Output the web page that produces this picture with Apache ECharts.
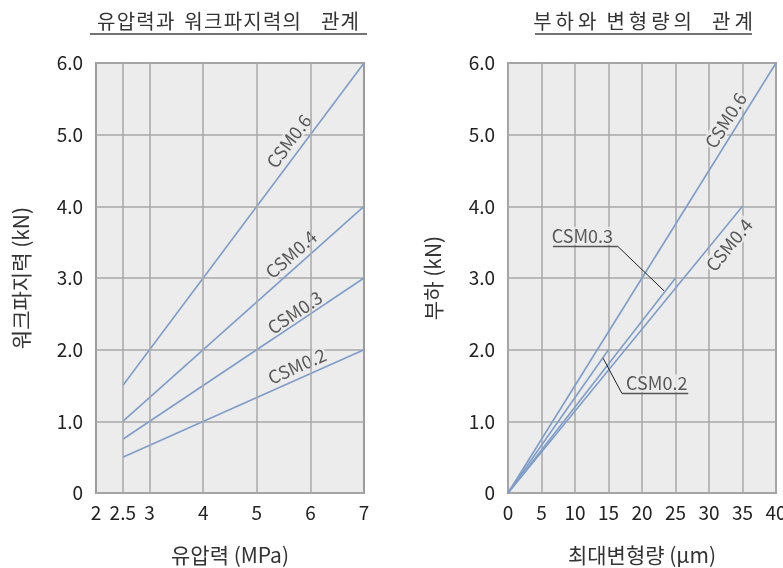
<!DOCTYPE html>
<html><head><meta charset="utf-8">
<script src="https://cdn.jsdelivr.net/npm/echarts@6/dist/echarts.min.js"></script>
<style>html,body{margin:0;padding:0;background:#fff}#c{width:783px;height:568px}</style>
</head><body><div id="c"></div>
<script>
const FONT = "'Noto Sans CJK KR', 'Noto Sans', sans-serif";

// ---- texts ----
const leftTitle = '유압력과 워크파지력의  관계';
const rightTitle = '부하와 변형량의  관계';
const leftXName = '유압력 (MPa)';
const leftYName = '워크파지력 (kN)';
const rightXName = '최대변형량 (μm)';
const rightYName = '부하 (kN)';
const seriesNames = ['CSM0.6', 'CSM0.4', 'CSM0.3', 'CSM0.2'];

// ---- ticks ----
const leftXTickLabels = [2, 2.5, 3, 4, 5, 6, 7];
const leftXGridValues = [2.5, 3, 4, 5, 6];
const yTickLabels = [0, 1, 2, 3, 4, 5, 6];
const rightXTickLabels = [0, 5, 10, 15, 20, 25, 30, 35, 40];

// ---- left chart: oil pressure (MPa) vs work gripping force (kN) ----
const pressure = [2.5, 7];
const grip06 = [1.5, 6.0];
const grip04 = [1.0, 4.0];
const grip03 = [0.75, 3.0];
const grip02 = [0.5, 2.0];

// ---- right chart: max deflection (um) vs load (kN) ----
const defl06 = [0, 40]; const load06 = [0, 6];
const defl04 = [0, 35]; const load04 = [0, 4];
const defl03 = [0, 25]; const load03 = [0, 3];
const defl02 = [0, 15]; const load02 = [0, 2];

// ---- annotation anchors (data coords) ----
const leftLabelAnchors = [[5.60, 4.91], [5.64, 3.33], [5.71, 2.52], [5.75, 1.77]];
const rightRotLabelAnchors = [[32.5, 5.20], [33.0, 3.46]]; // CSM0.6, CSM0.4
const rightCallout03Text = [11.1, 3.59];
const rightCallout03Under = [[6.7, 3.44], [16.4, 3.44]];
const rightCallout03Leader = [[16.4, 3.44], [23.3, 2.82]];
const rightCallout02Text = [22.2, 1.53];
const rightCallout02Under = [[17.0, 1.39], [26.9, 1.39]];
const rightCallout02Leader = [[17.0, 1.39], [14.2, 1.88]];

const BLUE = '#7f9dc8';
const GRIDC = '#a9a9a9';
const BG = '#ececec';

const zip = (xs, ys) => xs.map((x, i) => [x, ys[i]]);
const leftLines = [grip06, grip04, grip03, grip02].map(g => zip(pressure, g));
const rightLines = [zip(defl06, load06), zip(defl04, load04), zip(defl03, load03), zip(defl02, load02)];

// spaced-out title text (letter spacing emulated with thin spaces)
const spaced = (s, sp) => Array.from(s).map((ch, i, a) => (i < a.length - 1 && ch !== ' ' && a[i + 1] !== ' ') ? ch + sp : (ch === ' ' ? '\u2002' : ch)).join('');

const chart = echarts.init(document.getElementById('c'), null, {renderer: 'canvas'});

function yAxisCfg(gridIndex, name, gap) {
  return {
    type: 'value', gridIndex, min: 0, max: 6, interval: 1,
    name, nameLocation: 'middle', nameGap: gap,
    nameTextStyle: {fontFamily: FONT, fontSize: 21, color: '#333'},
    axisLine: {show: false}, axisTick: {show: false},
    axisLabel: {fontFamily: FONT, fontSize: 19, color: '#222', margin: 13,
      formatter: v => yTickLabels.includes(v) ? (v === 0 ? '0' : v.toFixed(1)) : ''},
    splitLine: {show: true, lineStyle: {color: GRIDC, width: 1.5}}
  };
}

function lineSeries(data, xi, yi, name) {
  return {type: 'line', name, xAxisIndex: xi, yAxisIndex: yi, data, symbol: 'none',
    lineStyle: {color: BLUE, width: 1.6}, z: 3, silent: true, animation: false};
}

function textPoint(xi, yi, pos, text, rotate) {
  return {type: 'scatter', xAxisIndex: xi, yAxisIndex: yi, symbolSize: 0, z: 4, silent: true, animation: false,
    data: [{value: pos}],
    label: {show: true, position: 'inside', formatter: text, rotate: rotate || 0,
      fontFamily: FONT, fontSize: 18, color: '#333', lineHeight: 18,
      backgroundColor: BG, padding: [0, 1]}};
}

function annotLine(xi, yi, data, color, width) {
  return {type: 'line', xAxisIndex: xi, yAxisIndex: yi, data, symbol: 'none', z: 5, silent: true,
    animation: false, lineStyle: {color, width}};
}

function buildOption(leftAngles, rightAngles) {
  const series = [];
  // vertical grid lines of the left chart (irregular ticks)
  series.push({type: 'line', xAxisIndex: 0, yAxisIndex: 0, data: [[2, 0]], symbol: 'none',
    lineStyle: {opacity: 0}, z: 1, silent: true, animation: false,
    markLine: {silent: true, symbol: 'none', animation: false, label: {show: false},
      lineStyle: {color: GRIDC, width: 1.5, type: 'solid'},
      data: leftXGridValues.map(v => ({xAxis: v}))}});
  leftLines.forEach((d, i) => series.push(lineSeries(d, 0, 0, seriesNames[i])));
  rightLines.forEach((d, i) => series.push(lineSeries(d, 1, 1, seriesNames[i])));
  leftLabelAnchors.forEach((p, i) => series.push(textPoint(0, 0, p, seriesNames[i], leftAngles[i])));
  series.push(textPoint(1, 1, rightRotLabelAnchors[0], seriesNames[0], rightAngles[0]));
  series.push(textPoint(1, 1, rightRotLabelAnchors[1], seriesNames[1], rightAngles[1]));
  series.push(textPoint(1, 1, rightCallout03Text, seriesNames[2], 0));
  series.push(textPoint(1, 1, rightCallout02Text, seriesNames[3], 0));
  series.push(annotLine(1, 1, rightCallout03Under, '#555', 1.5));
  series.push(annotLine(1, 1, rightCallout03Leader, '#222', 1));
  series.push(annotLine(1, 1, rightCallout02Under, '#555', 1.5));
  series.push(annotLine(1, 1, rightCallout02Leader, '#222', 1));

  return {
    animation: false,
    backgroundColor: '#fff',
    grid: [
      {left: 96, top: 63, width: 268, height: 430, show: true, backgroundColor: BG, borderColor: '#9c9c9c', borderWidth: 2, containLabel: false, outerBoundsMode: 'none'},
      {left: 508, top: 63, width: 268, height: 430, show: true, backgroundColor: BG, borderColor: '#9c9c9c', borderWidth: 2, containLabel: false, outerBoundsMode: 'none'}
    ],
    xAxis: [
      {type: 'value', gridIndex: 0, min: 2, max: 7, interval: 0.5,
        name: leftXName, nameLocation: 'middle', nameGap: 52,
        nameTextStyle: {fontFamily: FONT, fontSize: 21, color: '#333'},
        axisLine: {show: false}, axisTick: {show: false}, splitLine: {show: false},
        axisLabel: {fontFamily: FONT, fontSize: 19, color: '#222', margin: 10,
          formatter: v => leftXTickLabels.includes(v) ? String(v) : ''}},
      {type: 'value', gridIndex: 1, min: 0, max: 40, interval: 5,
        name: rightXName, nameLocation: 'middle', nameGap: 52,
        nameTextStyle: {fontFamily: FONT, fontSize: 21, color: '#333'},
        axisLine: {show: false}, axisTick: {show: false},
        splitLine: {show: true, lineStyle: {color: GRIDC, width: 1.5}},
        axisLabel: {fontFamily: FONT, fontSize: 19, color: '#222', margin: 10,
          formatter: v => rightXTickLabels.includes(v) ? String(v) : ''}}
    ],
    yAxis: [yAxisCfg(0, leftYName, 64), yAxisCfg(1, rightYName, 64)],
    graphic: [
      {type: 'text', x: 228, y: 21, style: {text: spaced(leftTitle, '\u200A'), fontFamily: FONT, fontSize: 20, fill: '#333', align: 'center', verticalAlign: 'middle'}},
      {type: 'text', x: 643, y: 21, style: {text: spaced(rightTitle, '\u2009'), fontFamily: FONT, fontSize: 20, fill: '#333', align: 'center', verticalAlign: 'middle'}},
      {type: 'line', shape: {x1: 90, y1: 34, x2: 367, y2: 34}, style: {stroke: '#444', lineWidth: 1.5}},
      {type: 'line', shape: {x1: 535, y1: 34, x2: 752, y2: 34}, style: {stroke: '#444', lineWidth: 1.5}}
    ],
    series
  };
}

// first pass to get pixel geometry, then compute label angles from the lines
chart.setOption(buildOption([0, 0, 0, 0], [0, 0]));
function angleOf(gridIndex, pts) {
  const a = chart.convertToPixel({gridIndex}, pts[0]);
  const b = chart.convertToPixel({gridIndex}, pts[pts.length - 1]);
  return Math.atan2(a[1] - b[1], b[0] - a[0]) * 180 / Math.PI;
}
const leftAngles = leftLines.map(l => angleOf(0, l));
const rightAngles = [angleOf(1, rightLines[0]), angleOf(1, rightLines[1])];
chart.setOption(buildOption(leftAngles, rightAngles), true);
</script>
</body></html>
